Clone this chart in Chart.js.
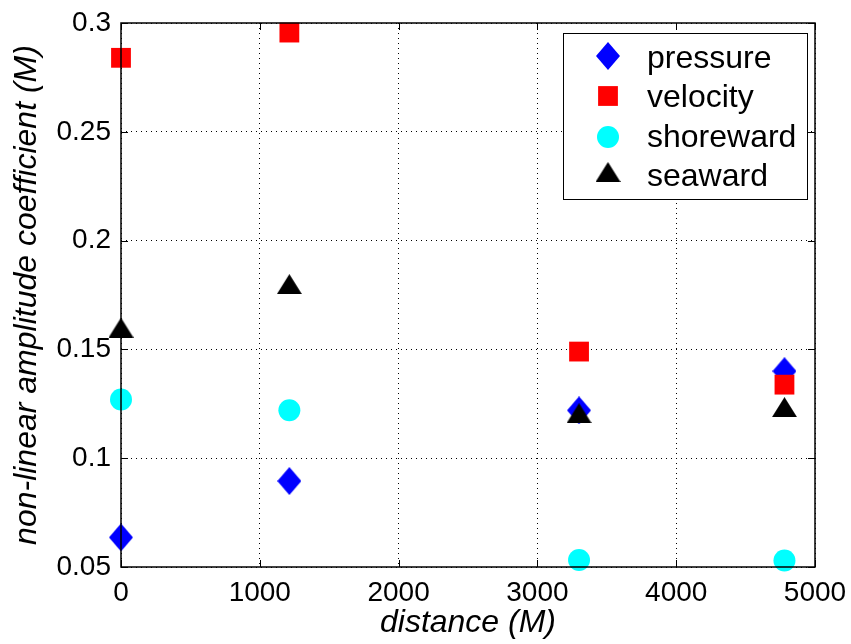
<!DOCTYPE html>
<html>
<head>
<meta charset="utf-8">
<script src="https://cdn.jsdelivr.net/npm/chart.js@4/dist/chart.umd.min.js"></script>
<style>
  html, body { margin: 0; padding: 0; background: #fff; }
  #wrap { width: 851px; height: 644px; position: relative; }
</style>
</head>
<body>
<div id="wrap"><canvas id="chart"></canvas></div>
<script>
const distances = [0, 1213, 3300, 4780];
const pressure = [0.0636, 0.0895, 0.122, 0.140];
const velocity = [0.284, 0.2956, 0.149, 0.1338];
const shoreward = [0.127, 0.122, 0.0532, 0.053];
const seaward = [0.160, 0.180, 0.1207, 0.1235];
const xTicks = [0, 1000, 2000, 3000, 4000, 5000];
const yTicks = [0.05, 0.1, 0.15, 0.2, 0.25, 0.3];

const FONT = "'Liberation Sans', Arial, sans-serif";

function shapeCanvas(w, h, color, draw) {
  const c = document.createElement("canvas");
  c.width = w;
  c.height = h;
  const g = c.getContext("2d");
  g.fillStyle = color;
  g.beginPath();
  draw(g, w, h);
  g.closePath();
  g.fill();
  return c;
}

const diamond = shapeCanvas(24, 28, "#0000ff", (g, w, h) => {
  g.moveTo(w / 2, 0);
  g.lineTo(w, h / 2);
  g.lineTo(w / 2, h);
  g.lineTo(0, h / 2);
});
const triangle = shapeCanvas(25, 20, "#000000", (g, w, h) => {
  g.moveTo(w / 2, 0);
  g.lineTo(w, h);
  g.lineTo(0, h);
});

function points(values) {
  return distances.map((d, i) => ({ x: d, y: values[i] }));
}

const datasets = [
  { label: "pressure", data: points(pressure), pointStyle: diamond, order: 3,
    backgroundColor: "#0000ff", borderColor: "#0000ff" },
  { label: "velocity", data: points(velocity), pointStyle: "rect", pointRadius: 14, order: 2,
    backgroundColor: "#ff0000", borderColor: "#ff0000" },
  { label: "shoreward", data: points(shoreward), pointStyle: "circle", pointRadius: 11, order: 1,
    backgroundColor: "#00ffff", borderColor: "#00ffff" },
  { label: "seaward", data: points(seaward), pointStyle: triangle, order: 0,
    backgroundColor: "#000000", borderColor: "#000000" },
];
datasets.forEach((ds) => {
  ds.borderWidth = 0;
  ds.pointBorderWidth = 0;
  ds.pointHoverRadius = ds.pointRadius || 12;
  ds.clip = false;
});

// box, inward ticks and legend as MATLAB draws them
const matlabFrame = {
  id: "matlabFrame",
  afterDatasetsDraw(chart) {
    const { ctx, chartArea: a, scales } = chart;
    ctx.save();
    ctx.strokeStyle = "#000";
    ctx.lineWidth = 1.5;
    ctx.strokeRect(a.left, a.top, a.right - a.left, a.bottom - a.top);
    ctx.lineWidth = 1;
    ctx.beginPath();
    xTicks.forEach((v) => {
      const px = Math.round(scales.x.getPixelForValue(v)) + 0.5;
      ctx.moveTo(px, a.bottom); ctx.lineTo(px, a.bottom - 7);
      ctx.moveTo(px, a.top); ctx.lineTo(px, a.top + 7);
    });
    yTicks.forEach((v) => {
      const py = Math.round(scales.y.getPixelForValue(v)) + 0.5;
      ctx.moveTo(a.left, py); ctx.lineTo(a.left + 7, py);
      ctx.moveTo(a.right, py); ctx.lineTo(a.right - 7, py);
    });
    ctx.stroke();

    // legend box
    const lx = 563, ly = 33, lw = 244, lh = 166;
    ctx.fillStyle = "#fff";
    ctx.fillRect(lx, ly, lw, lh);
    ctx.strokeStyle = "#000";
    ctx.lineWidth = 1;
    ctx.strokeRect(lx + 0.5, ly + 0.5, lw, lh);
    const markRows = [56, 96, 137, 172];
    const textRows = [68, 107, 147, 186];
    ctx.font = "32px " + FONT;
    ctx.textBaseline = "alphabetic";
    chart.data.datasets.forEach((ds, i) => {
      ctx.fillStyle = ds.backgroundColor;
      ctx.strokeStyle = ds.borderColor;
      Chart.helpers.drawPoint(ctx, {
        pointStyle: ds.pointStyle, radius: ds.pointRadius || 12, rotation: 0, borderWidth: 0,
      }, 608, markRows[i]);
      ctx.fillStyle = "#000";
      ctx.fillText(ds.label, 647, textRows[i]);
    });
    ctx.restore();
  },
};

new Chart(document.getElementById("chart"), {
  type: "scatter",
  data: { datasets },
  options: {
    responsive: true,
    maintainAspectRatio: false,
    animation: false,
    events: [],
    layout: { padding: { top: 23, right: 36, left: 0, bottom: 0 } },
    plugins: { legend: { display: false }, tooltip: { enabled: false } },
    scales: {
      x: {
        type: "linear",
        min: 0,
        max: 5000,
        afterBuildTicks(scale) { scale.ticks = xTicks.map((v) => ({ value: v })); },
        afterFit(scale) {
          scale.height = 77;
          scale.paddingLeft = 0;
          scale.paddingRight = 0;
        },
        grid: { color: "#000", lineWidth: 1, drawTicks: false },
        border: { display: false, dash: [1, 4] },
        ticks: {
          color: "#000", font: { family: FONT, size: 28 }, padding: 9, maxRotation: 0,
          callback(value) { return String(value); },
        },
        title: {
          display: true, text: "distance (M)", color: "#000",
          font: { family: FONT, size: 32, style: "italic" }, padding: { top: 0, bottom: 2 },
        },
      },
      y: {
        type: "linear",
        min: 0.05,
        max: 0.3,
        afterBuildTicks(scale) { scale.ticks = yTicks.map((v) => ({ value: v })); },
        afterFit(scale) {
          scale.width = 121;
          scale.paddingTop = 0;
          scale.paddingBottom = 0;
        },
        grid: { color: "#000", lineWidth: 1, drawTicks: false },
        border: { display: false, dash: [1, 4] },
        ticks: {
          color: "#000", font: { family: FONT, size: 28 }, padding: 10,
          callback(value) { return String(Number(value.toFixed(2))); },
        },
        title: {
          display: true, text: "non-linear amplitude coefficient (M)", color: "#000",
          font: { family: FONT, size: 32, style: "italic" }, padding: { top: 8, bottom: 0 },
        },
      },
    },
  },
  plugins: [matlabFrame],
});
</script>
</body>
</html>
